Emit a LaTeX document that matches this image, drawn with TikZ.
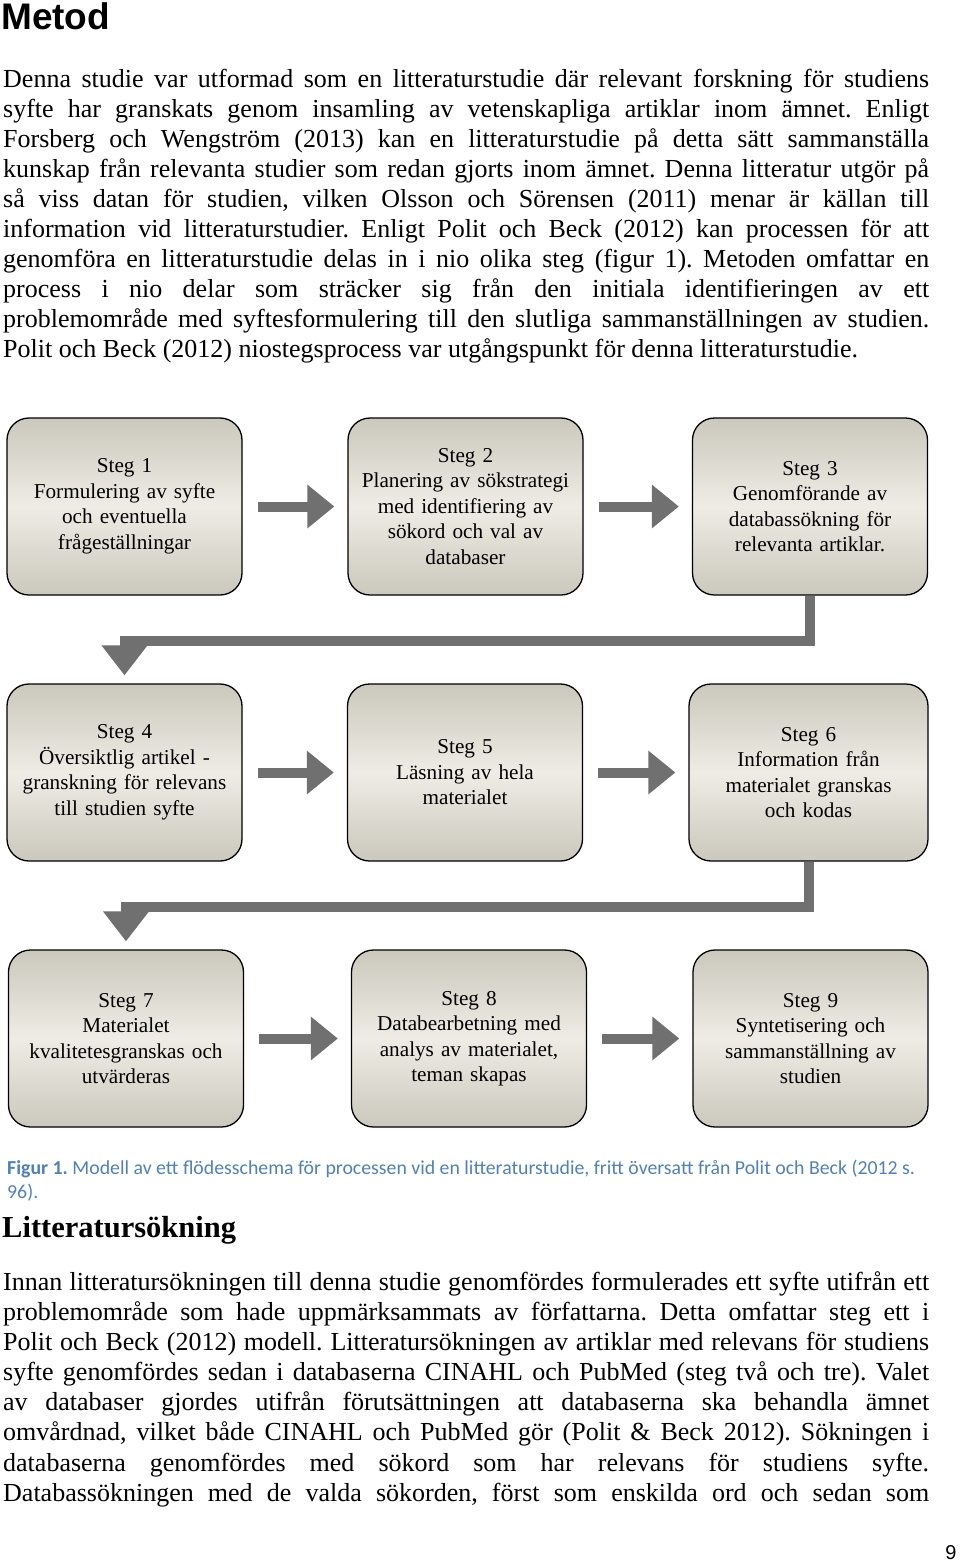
\documentclass[tikz,border=0pt]{standalone}
\usepackage{fontspec}
\setmainfont{Liberation Serif}
\newfontfamily\headfont{Liberation Sans}
\newfontfamily\capfont{Carlito}
\usetikzlibrary{arrows.meta}
\frenchspacing
\definecolor{boxedge}{RGB}{203,200,189}
\definecolor{boxmid}{RGB}{238,236,228}
\definecolor{arrowgray}{RGB}{112,112,112}
\definecolor{capblue}{RGB}{79,129,189}
\newcommand{\jline}[2]{\node[bodyline] at (3,#1) {\makebox[926pt][s]{#2}};}
\newcommand{\lline}[2]{\node[bodyline] at (3,#1) {#2};}
\tikzset{
  bodyline/.style={anchor=west, inner sep=0pt, font=\fontsize{26}{30}\selectfont},
  stepbox/.style={draw=black, line width=1.3pt, rounded corners=22pt,
    minimum width=235pt, minimum height=177pt, top color=boxedge, bottom color=boxedge,
    middle color=boxmid, align=center, text width=225pt,
    font=\fontsize{21.2}{25.5}\selectfont},
  flow/.style={line width=10pt, arrowgray, -{Triangle[width=42pt,length=27pt]}},
  turnflow/.style={line width=10pt, arrowgray, -{Triangle[width=44pt,length=30pt]}}
}
\begin{document}
\begin{tikzpicture}[x=1pt,y=-1pt]
\useasboundingbox[fill=white] (0,0) rectangle (960,1564);
\node[anchor=west, inner sep=0pt, font=\headfont\bfseries\fontsize{37}{42}\selectfont] (metod) at (1,16) {Metod};
\jline{81}{Denna studie var utformad som en litteraturstudie där relevant forskning för studiens}
\jline{111}{syfte har granskats genom insamling av vetenskapliga artiklar inom ämnet. Enligt}
\jline{141}{Forsberg och Wengström (2013) kan en litteraturstudie på detta sätt sammanställa}
\jline{171}{kunskap från relevanta studier som redan gjorts inom ämnet. Denna litteratur utgör på}
\jline{201}{så viss datan för studien, vilken Olsson och Sörensen (2011) menar är källan till}
\jline{231}{information vid litteraturstudier. Enligt Polit och Beck (2012) kan processen för att}
\jline{261}{genomföra en litteraturstudie delas in i nio olika steg (figur 1). Metoden omfattar en}
\jline{291}{process i nio delar som sträcker sig från den initiala identifieringen av ett}
\jline{321}{problemområde med syftesformulering till den slutliga sammanställningen av studien.}
\lline{351}{Polit och Beck (2012) niostegsprocess var utgångspunkt för denna litteraturstudie.}
% flow chart
\node[stepbox] (s1) at (124.5,506.5) {Steg 1\\Formulering av syfte\\och eventuella\\frågeställningar};
\node[stepbox] (s2) at (465.5,506.5) {Steg 2\\Planering av sökstrategi\\med identifiering av\\sökord och val av\\databaser};
\node[stepbox] (s3) at (810,506.5) {Steg 3\\Genomförande av\\databassökning för\\relevanta artiklar.};
\node[stepbox] (s4) at (124.5,772.5) {Steg 4\\Översiktlig artikel -\\granskning för relevans\\till studien syfte};
\node[stepbox] (s5) at (465,772.5) {Steg 5\\Läsning av hela\\materialet};
\node[stepbox, minimum width=239pt] (s6) at (808.5,772.5) {Steg 6\\Information från\\materialet granskas\\och kodas};
\node[stepbox] (s7) at (126,1038.5) {Steg 7\\Materialet\\kvalitetesgranskas och\\utvärderas};
\node[stepbox] (s8) at (469,1038.5) {Steg 8\\Databearbetning med\\analys av materialet,\\teman skapas};
\node[stepbox] (s9) at (810.5,1038.5) {Steg 9\\Syntetisering och\\sammanställning av\\studien};
\draw[flow, shorten <=15pt, shorten >=13pt] (s1) -- (s2);
\draw[flow, shorten <=15pt, shorten >=13pt] (s2) -- (s3);
\draw[flow, shorten <=15pt, shorten >=13pt] (s4) -- (s5);
\draw[flow, shorten <=15pt, shorten >=13pt] (s5) -- (s6);
\draw[flow, shorten <=15pt, shorten >=13pt] (s7) -- (s8);
\draw[flow, shorten <=15pt, shorten >=13pt] (s8) -- (s9);
\draw[turnflow, shorten >=8pt] (s3.south) -- ++(0,45) -| (s4.north);
\draw[turnflow, shorten >=8pt] (s6.south) -- ++(0,45) -| (s7.north);
% caption
\node[anchor=west, inner sep=0pt, text=capblue, font=\capfont\fontsize{19.8}{24}\selectfont] (cap1) at (7,1169) {\textbf{Figur 1.} Modell av ett flödesschema för processen vid en litteraturstudie, fritt översatt från Polit och Beck (2012 s.};
\node[anchor=west, inner sep=0pt, text=capblue, font=\capfont\fontsize{19.8}{24}\selectfont] (cap2) at (7,1193) {96).};
\node[anchor=west, inner sep=0pt, font=\bfseries\fontsize{30.5}{36}\selectfont] (litt) at (2,1230) {Litteratursökning};
\jline{1284}{Innan litteratursökningen till denna studie genomfördes formulerades ett syfte utifrån ett}
\jline{1314}{problemområde som hade uppmärksammats av författarna. Detta omfattar steg ett i}
\jline{1344}{Polit och Beck (2012) modell. Litteratursökningen av artiklar med relevans för studiens}
\jline{1374}{syfte genomfördes sedan i databaserna CINAHL och PubMed (steg två och tre). Valet}
\jline{1404}{av databaser gjordes utifrån förutsättningen att databaserna ska behandla ämnet}
\jline{1434}{omvårdnad, vilket både CINAHL och PubMed gör (Polit \& Beck 2012). Sökningen i}
\jline{1465}{databaserna genomfördes med sökord som har relevans för studiens syfte.}
\jline{1495}{Databassökningen med de valda sökorden, först som enskilda ord och sedan som}
\node[anchor=center, inner sep=0pt, font=\headfont\fontsize{20}{24}\selectfont] (page) at (951,1553) {9};
\end{tikzpicture}
\end{document}
